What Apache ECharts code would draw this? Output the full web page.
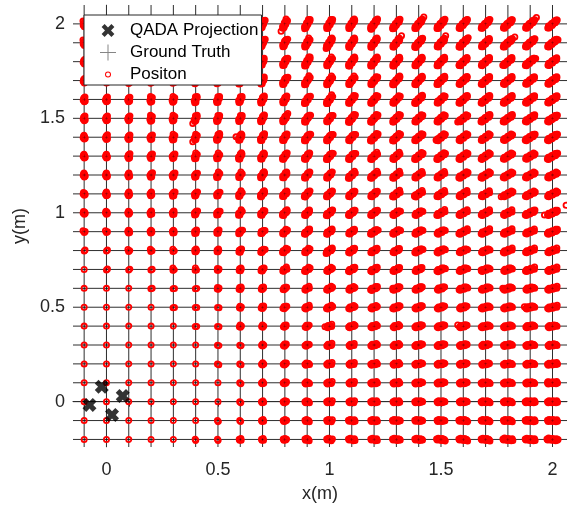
<!DOCTYPE html>
<html>
<head>
<meta charset="utf-8">
<script src="https://cdn.jsdelivr.net/npm/echarts@6/dist/echarts.min.js"></script>
<style>html,body{margin:0;padding:0;background:#fff}#c{width:573px;height:510px}</style>
</head>
<body>
<div id="c"></div>
<script>
// ---- data ----
// ground-truth grid (m)
const gridX = [-0.1,0,0.1,0.2,0.3,0.4,0.5,0.6,0.7,0.8,0.9,1.0,1.1,1.2,1.3,1.4,1.5,1.6,1.7,1.8,1.9,2.0];
const gridY = [-0.2,-0.1,0,0.1,0.2,0.3,0.4,0.5,0.6,0.7,0.8,0.9,1.0,1.1,1.2,1.3,1.4,1.5,1.6,1.7,1.8,1.9,2.0];
const xTickLabels = [0,0.5,1,1.5,2];
const yTickLabels = [0,0.5,1,1.5,2];
// QADA projection points (m)
const qadaX = [-0.076,-0.021,0.025,0.073];
const qadaY = [-0.017,0.079,-0.070,0.030];
// length (mm) of each position cluster, elongated toward the origin
// rows: y = 2.0 (top) ... -0.2 (bottom); columns follow gridX
const spreadRowY = [2.0,1.9,1.8,1.7,1.6,1.5,1.4,1.3,1.2,1.1,1.0,0.9,0.8,0.7,0.6,0.5,0.4,0.3,0.2,0.1,0,-0.1,-0.2];
const spreadMM = [
 [30,30,30,35,35,35,40,40,45,50,55,55,55,60,60,60,60,60,60,60,60,60],
 [30,30,30,30,35,35,35,40,45,45,50,55,55,55,55,60,55,60,55,60,60,60],
 [25,30,30,30,35,35,35,40,40,45,50,50,55,55,55,55,55,55,55,55,60,55],
 [25,25,30,30,30,35,35,40,40,45,50,50,50,50,55,55,55,55,55,55,55,55],
 [25,25,25,30,30,35,35,35,40,40,45,50,50,50,50,55,50,55,55,55,55,55],
 [25,25,25,30,30,35,35,35,40,40,45,45,50,50,50,50,50,50,55,55,55,55],
 [20,25,25,25,30,30,35,35,40,40,45,45,45,50,50,50,50,50,50,50,55,55],
 [20,20,25,25,25,30,30,35,35,40,40,45,45,45,45,50,50,50,50,50,50,55],
 [20,20,20,25,25,25,30,30,35,35,40,40,45,45,45,45,45,50,50,50,50,50],
 [15,20,20,20,25,25,25,30,35,35,40,40,40,40,45,45,45,45,45,50,50,50],
 [15,15,15,20,20,25,25,30,30,35,35,40,40,40,40,40,45,45,45,45,50,50],
 [10,10,15,15,15,20,20,25,25,30,35,35,35,40,40,40,40,45,45,45,45,50],
 [5,5,10,10,10,15,15,20,25,30,30,35,35,35,35,40,40,40,40,45,45,45],
 [0,5,5,5,10,10,10,15,20,25,30,30,35,35,35,35,40,40,40,40,45,45],
 [0,0,0,5,5,5,10,15,15,20,25,30,30,35,35,35,35,40,40,40,40,45],
 [0,0,0,0,5,5,5,10,15,20,25,30,30,30,35,35,35,35,40,40,40,45],
 [0,0,0,0,0,5,5,10,10,15,20,25,30,30,30,35,35,35,40,40,40,40],
 [0,0,0,0,0,0,5,5,10,15,20,25,25,30,30,35,35,35,35,40,40,40],
 [0,0,0,0,0,0,5,5,10,15,20,25,25,30,30,35,35,35,35,40,40,45],
 [0,0,0,0,0,0,0,5,10,15,20,25,25,30,30,35,35,35,40,40,40,45],
 [0,0,0,0,0,0,0,5,10,15,20,25,25,30,30,35,35,35,40,40,45,45],
 [0,0,0,0,0,0,5,5,10,15,20,25,30,30,35,35,35,40,40,40,45,45],
 [0,0,0,0,0,5,5,10,10,15,20,25,30,30,35,35,40,40,40,45,45,50]
];
// stray position samples (m)
const strayX = [1.423,1.928,1.323,1.521,1.622,1.831,1.581,1.777,0.985,1.187,1.284,0.989,1.575,1.478,1.770,1.381,1.090,1.964,2.061,
                0.985,1.874,1.777,1.680,1.575,0.980,1.284,1.979,0.387,0.387,0.888,0.813,0.913,0.783,0.581,0.507,0.888];
const strayY = [2.037,2.034,1.937,1.937,1.926,1.931,1.781,1.781,1.870,1.972,1.975,1.579,1.481,1.385,1.085,1.090,1.480,0.988,1.040,
                0.785,0.503,0.600,0.697,0.406,0.397,0.600,0.106,1.473,1.376,1.579,1.526,1.825,1.961,1.402,1.420,1.288];

// ---- build series data ----
const gtData = [];
gridY.forEach(y => gridX.forEach(x => gtData.push([x, y])));
const posData = [];
spreadRowY.forEach((y, i) => gridX.forEach((x, j) => posData.push([x, y, spreadMM[i][j]])));
strayX.forEach((x, i) => posData.push([x, strayY[i], 0]));
const qadaData = qadaX.map((x, i) => [x, qadaY[i]]);

const FONT = "'Liberation Sans', Arial, Helvetica, sans-serif";
const X_PATH = 'path://M0,0L0.01,0L0,0.01Z M16,16L15.99,16L16,15.99Z M1.6,4.6L4.6,1.6L8,5L11.4,1.6L14.4,4.6L11,8L14.4,11.4L11.4,14.4L8,11L4.6,14.4L1.6,11.4L5,8Z';
const PLUS_PATH = 'path://M0,7.5L16,7.5L16,8.5L0,8.5Z M7.5,0L8.5,0L8.5,16L7.5,16Z';
const RING_PATH = 'path://M0,0L0.01,0L0,0.01Z M16,16L15.99,16L16,15.99Z M11,8A3,3 0 1,0 5,8A3,3 0 1,0 11,8Z M10,8A2,2 0 1,1 6,8A2,2 0 1,1 10,8Z';
const XMARK = 'path://M0,3.2L3.2,0L6,2.8L8.8,0L12,3.2L9.2,6L12,8.8L8.8,12L6,9.2L3.2,12L0,8.8L2.8,6Z';
const PLUSMARK = 'path://M0,4.5L10,4.5L10,5.5L0,5.5Z M4.5,0L5.5,0L5.5,10L4.5,10Z';
const LINE_COLOR = '#2e2e2e';

const chart = echarts.init(document.getElementById('c'), null, {renderer: 'canvas'});
chart.setOption({
  animation: false,
  grid: {left: 73, right: 6, top: 5, bottom: 63},
  xAxis: {
    type: 'value', min: -0.15, max: 2.065,
    name: 'x(m)', nameLocation: 'middle', nameGap: 38,
    nameTextStyle: {fontSize: 18, color: '#262626', fontFamily: FONT},
    axisLine: {show: true, lineStyle: {color: '#333', width: 1}},
    axisTick: {show: true, inside: false, length: 5, customValues: gridX, lineStyle: {color: LINE_COLOR}},
    axisLabel: {customValues: xTickLabels, fontSize: 18, color: '#262626', fontFamily: FONT, margin: 14,
                formatter: v => String(+v.toFixed(2))},
    splitLine: {show: false}
  },
  yAxis: {
    type: 'value', min: -0.24, max: 2.1,
    name: 'y(m)', nameLocation: 'middle', nameGap: 31,
    nameTextStyle: {fontSize: 18, color: '#262626', fontFamily: FONT},
    axisLine: {show: true, lineStyle: {color: '#999', width: 1}},
    axisTick: {show: false},
    axisLabel: {customValues: yTickLabels, fontSize: 18, color: '#262626', fontFamily: FONT, margin: 8,
                formatter: v => String(+v.toFixed(2))},
    splitLine: {show: false}
  },
  legend: {
    orient: 'vertical', left: 84, top: 15, z: 20,
    backgroundColor: '#fff', borderColor: '#262626', borderWidth: 1, borderRadius: 0,
    padding: [7, 3, 2, 16], itemWidth: 34, itemHeight: 16, itemGap: 5,
    selectedMode: false,
    textStyle: {fontSize: 17, color: '#000', fontFamily: FONT},
    data: [
      {name: 'QADA Projection', icon: X_PATH, itemStyle: {color: '#000'}},
      {name: 'Ground Truth', icon: PLUS_PATH, itemStyle: {color: '#666'}},
      {name: 'Positon', icon: RING_PATH, itemStyle: {color: '#ff0000'}}
    ]
  },
  series: [
    { // vertical grid lines
      type: 'custom', silent: true, z: 1, clip: false,
      data: gridX.map(v => [v, 0]),
      encode: {x: 0, y: 1},
      renderItem: (params, api) => {
        const cs = params.coordSys;
        const p = api.coord([api.value(0), 0]);
        return {type: 'line', shape: {x1: p[0], y1: cs.y, x2: p[0], y2: cs.y + cs.height},
                style: {stroke: LINE_COLOR, lineWidth: 1}};
      }
    },
    { // horizontal grid lines
      type: 'custom', silent: true, z: 1, clip: false,
      data: gridY.map(v => [0, v]),
      encode: {x: 0, y: 1},
      renderItem: (params, api) => {
        const cs = params.coordSys;
        const p = api.coord([0, api.value(1)]);
        return {type: 'line', shape: {x1: cs.x, y1: p[1], x2: cs.x + cs.width, y2: p[1]},
                style: {stroke: LINE_COLOR, lineWidth: 1}};
      }
    },
    {
      name: 'Positon', type: 'custom', z: 3, clip: true, silent: true,
      itemStyle: {color: '#ff0000'},
      data: posData,
      encode: {x: 0, y: 1},
      renderItem: (params, api) => {
        const x = api.value(0), y = api.value(1), L = api.value(2) / 1000;
        const R = 2.6;
        const st = {fill: 'none', stroke: '#ff0000', lineWidth: 1.8, opacity: 1};
        const children = [];
        if (!(L > 0)) {
          const c = api.coord([x, y]);
          children.push({type: 'circle', shape: {cx: c[0], cy: c[1], r: R}, style: st});
        } else {
          const a = Math.atan2(y, x);
          const p1 = api.coord([x - L / 2 * Math.cos(a), y - L / 2 * Math.sin(a)]);
          const p2 = api.coord([x + L / 2 * Math.cos(a), y + L / 2 * Math.sin(a)]);
          const dx = p2[0] - p1[0], dy = p2[1] - p1[1];
          const len = Math.hypot(dx, dy) || 1;
          const n = Math.max(2, Math.round(len / 0.8) + 1);
          const nx = -dy / len, ny = dx / len;
          const offs = [0, 1, -1, 0.5, -0.5];
          for (let k = 0; k < n; k++) {
            const t = k / (n - 1), o = offs[k % offs.length];
            children.push({type: 'circle',
              shape: {cx: p1[0] + t * dx + o * nx, cy: p1[1] + t * dy + o * ny, r: R}, style: st});
          }
        }
        return {type: 'group', children};
      }
    },
    {
      name: 'Ground Truth', type: 'scatter', z: 4, silent: true,
      symbol: PLUSMARK, symbolSize: 3,
      itemStyle: {color: '#000'},
      data: gtData
    },
    {
      name: 'QADA Projection', type: 'scatter', z: 5, silent: true,
      symbol: XMARK, symbolSize: 14,
      itemStyle: {color: '#000'},
      data: qadaData
    }
  ]
});
</script>
</body>
</html>
